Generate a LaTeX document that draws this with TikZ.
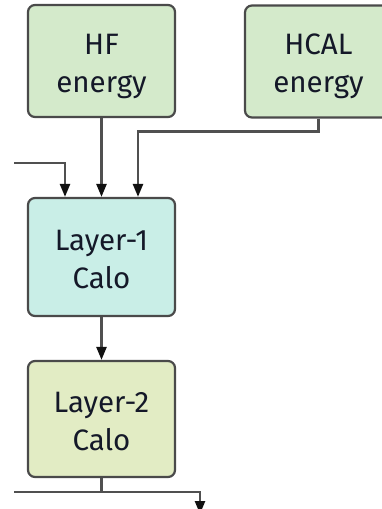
\documentclass[tikz,border=0pt]{standalone}
\usepackage{fontspec}
\setmainfont{Fira Sans}
\usetikzlibrary{arrows.meta}
\definecolor{boxline}{HTML}{4A4A4A}
\definecolor{wire}{HTML}{505050}
\definecolor{tipink}{HTML}{111111}
\definecolor{inputfill}{HTML}{D4EACB}
\definecolor{layeronefill}{HTML}{C9EEE7}
\definecolor{layertwofill}{HTML}{E2ECC4}
\definecolor{labelink}{HTML}{141828}
\begin{document}
\begin{tikzpicture}[x=1pt,y=1pt,
  block/.style={draw=boxline, line width=2.2pt, rounded corners=7pt,
    minimum width=147pt, minimum height=112pt, align=center,
    text height=66pt, text depth=4pt,
    text=labelink, font=\fontsize{29.5}{38}\selectfont},
  wireline/.style={draw=wire, line width=2.4pt},
  arr/.style={wireline, -{Triangle[length=13pt,width=10pt,fill=tipink,color=tipink]}}]
\useasboundingbox (0,0) rectangle (381,-509);
% input blocks
\node[block, fill=inputfill] (hf) at (101.5,-61) {HF\\energy};
\node[block, fill=inputfill] (hcal) at (318.5,-61.5) {HCAL\\energy};
% trigger layers
\node[block, fill=layeronefill, minimum height=118pt] (l1) at (101.5,-257) {Layer-1\\Calo};
\node[block, fill=layertwofill, minimum height=116pt] (l2) at (101.5,-419) {Layer-2\\Calo};
% free ends of the wires
\coordinate (inL) at (14,-163);
\coordinate (outL) at (14,-492);
\coordinate (outEnd) at (200,-514);
% inputs into Layer-1
\draw[arr] (inL) -| ([xshift=-36.5pt]l1.north);
\draw[arr] (hf.south) -- (l1.north);
\draw[arr] (hcal.south) -- ++(0,-13) -| ([xshift=36.5pt]l1.north);
% Layer-1 to Layer-2
\draw[arr] (l1.south) -- (l2.north);
% Layer-2 output bus
\draw[wireline] (l2.south) -- (l2.south |- outL);
\draw[arr] (outL) -| (outEnd);
\end{tikzpicture}
\end{document}
